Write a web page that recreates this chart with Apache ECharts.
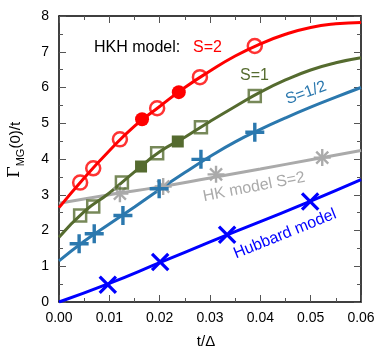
<!DOCTYPE html>
<html>
<head>
<meta charset="utf-8">
<script src="https://cdn.jsdelivr.net/npm/echarts@6/dist/echarts.min.js"></script>
<style>
  html, body { margin: 0; padding: 0; background: #fff; }
  #chart { width: 389px; height: 353px; }
</style>
</head>
<body>
<div id="chart"></div>
<script>
// x ticks and curve sampling
var xTicks = [0, 0.01, 0.02, 0.03, 0.04, 0.05, 0.06];
var curveX = [0, 0.005, 0.01, 0.015, 0.02, 0.025, 0.03, 0.035, 0.04, 0.045, 0.05, 0.055, 0.06];

// HKH S=2 (red)
var s2Curve = [2.64, 3.47, 4.23, 4.92, 5.47, 6.0, 6.46, 6.88, 7.22, 7.49, 7.68, 7.78, 7.82];
var s2OpenX = [0.0042, 0.0068, 0.0121, 0.0195, 0.0280, 0.0389];
var s2OpenY = [3.34, 3.74, 4.55, 5.42, 6.29, 7.16];
var s2FillX = [0.0165, 0.0238];
var s2FillY = [5.11, 5.87];

// HKH S=1 (olive)
var s1Curve = [1.81, 2.53, 3.05, 3.64, 4.2, 4.61, 5.05, 5.47, 5.87, 6.21, 6.49, 6.69, 6.83];
var s1OpenX = [0.0042, 0.0068, 0.0125, 0.0195, 0.0282, 0.0389];
var s1OpenY = [2.42, 2.67, 3.34, 4.16, 4.89, 5.76];
var s1FillX = [0.0163, 0.0236];
var s1FillY = [3.79, 4.49];

// HKH S=1/2 (steel blue)
var shCurve = [1.15, 1.7, 2.18, 2.66, 3.15, 3.62, 4.07, 4.48, 4.83, 5.15, 5.45, 5.73, 6.0];
var shX = [0.0040, 0.0070, 0.0127, 0.0199, 0.0282, 0.0389];
var shY = [1.63, 1.91, 2.42, 3.17, 3.99, 4.75];

// HK model S=2 (gray)
var hkLineX = [0, 0.01, 0.02, 0.03, 0.04, 0.05, 0.06];
var hkLineY = [2.76, 3.0, 3.22, 3.47, 3.72, 3.98, 4.24];
var hkX = [0.0121, 0.0207, 0.0312, 0.0523];
var hkY = [3.03, 3.23, 3.57, 4.04];

// Hubbard model (blue)
var hubLineX = [0, 0.01, 0.02, 0.03, 0.04, 0.05, 0.06];
var hubLineY = [0, 0.52, 1.1, 1.68, 2.25, 2.82, 3.42];
var hubX = [0.0097, 0.0201, 0.0334, 0.0499];
var hubY = [0.48, 1.12, 1.88, 2.81];

function pairs(xs, ys) {
    return xs.map(function (x, i) { return [x, ys[i]]; });
}

var RED = '#ff0000', OLIVE = '#556b2f', STEEL = '#2b78ae', GRAY = '#aaaaaa', BLUE = '#0000ff';
var PLUS = 'path://M4.1,0H5.9V4.1H10V5.9H5.9V10H4.1V5.9H0V4.1H4.1Z';
var THIN = 'path://M4.3,0H5.7V4.3H10V5.7H5.7V10H4.3V5.7H0V4.3H4.3Z';
var FONT = '"Liberation Sans", Arial, sans-serif';

function curve(xs, ys, color, smooth) {
    return {
        type: 'line', data: pairs(xs, ys), smooth: smooth, showSymbol: false, symbol: 'none',
        lineStyle: { color: color, width: 3 }, z: 2, silent: true
    };
}
function marks(xs, ys, symbol, size, color, extra) {
    var s = {
        type: 'scatter', data: pairs(xs, ys), symbol: symbol, symbolSize: size,
        itemStyle: { color: color, borderColor: color, borderWidth: 0, opacity: 1 }, z: 3, silent: true
    };
    for (var k in extra) s[k] = extra[k];
    return s;
}

var axisCommon = {
    type: 'value',
    axisLine: { show: true, onZero: false, lineStyle: { color: '#000', width: 1.5 } },
    axisTick: { show: true, inside: true, length: 7, lineStyle: { color: '#555', width: 1 } },
    minorTick: { show: true, splitNumber: 2, length: 4, lineStyle: { color: '#555', width: 1 } },
    splitLine: { show: false }
};
function ax(extra) {
    var a = JSON.parse(JSON.stringify(axisCommon));
    for (var k in extra) a[k] = extra[k];
    return a;
}

var chart = echarts.init(document.getElementById('chart'));
chart.setOption({
    animation: false,
    grid: { left: 59, right: 28, top: 16, bottom: 51 },
    xAxis: [
        ax({ min: 0, max: 0.06, interval: 0.01, position: 'bottom',
             axisLabel: { color: '#000', fontSize: 14, fontFamily: FONT, margin: 9,
                          formatter: function (v) { return v.toFixed(2); } } }),
        ax({ min: 0, max: 0.06, interval: 0.01, position: 'top', axisLabel: { show: false } })
    ],
    yAxis: [
        ax({ min: 0, max: 8, interval: 1, position: 'left',
             axisLabel: { color: '#000', fontSize: 14, fontFamily: FONT, margin: 10 } }),
        ax({ min: 0, max: 8, interval: 1, position: 'right', axisLabel: { show: false } })
    ],
    series: [
        curve(hubLineX, hubLineY, BLUE, true),
        curve(hkLineX, hkLineY, GRAY, true),
        curve(curveX, shCurve, STEEL, true),
        curve(curveX, s1Curve, OLIVE, true),
        curve(curveX, s2Curve, RED, true),
        marks(hubX, hubY, THIN, 23, BLUE, { symbolRotate: 45 }),
        marks(hkX, hkY, THIN, 17, GRAY, {}),
        marks(hkX, hkY, THIN, 17, GRAY, { symbolRotate: 45 }),
        marks(shX, shY, PLUS, 19, STEEL, {}),
        marks(s1OpenX, s1OpenY, 'rect', 12,
              '#fff', { itemStyle: { color: 'rgba(255,255,255,0)', borderColor: OLIVE, borderWidth: 2.5 } }),
        marks(s1FillX, s1FillY, 'rect', 12, OLIVE, {}),
        marks(s2OpenX, s2OpenY, 'circle', 14,
              '#fff', { itemStyle: { color: 'rgba(255,255,255,0)', borderColor: RED, borderWidth: 2.5 } }),
        marks(s2FillX, s2FillY, 'circle', 14, RED, {})
    ],
    graphic: [
        { type: 'text', left: 94, top: 40, style: { text: 'HKH model:', fill: '#000', font: '16px ' + FONT } },
        { type: 'text', left: 193, top: 40, style: { text: 'S=2', fill: RED, font: '16px ' + FONT } },
        { type: 'text', left: 240, top: 68, style: { text: 'S=1', fill: OLIVE, font: '16px ' + FONT } },
        { type: 'text', x: 306, y: 93, rotation: 20 * Math.PI / 180,
          style: { text: 'S=1/2', fill: STEEL, font: '16px ' + FONT, align: 'center', verticalAlign: 'middle' } },
        { type: 'text', x: 254, y: 187, rotation: 11 * Math.PI / 180,
          style: { text: 'HK model S=2', fill: GRAY, font: '16px ' + FONT, align: 'center', verticalAlign: 'middle' } },
        { type: 'text', x: 285, y: 234, rotation: 22 * Math.PI / 180,
          style: { text: 'Hubbard model', fill: BLUE, font: '16px ' + FONT, align: 'center', verticalAlign: 'middle' } },
        { type: 'text', x: 206, y: 342,
          style: { text: 't/Δ', fill: '#000', font: '15px ' + FONT, align: 'center', verticalAlign: 'middle' } },
        { type: 'text', x: 15, y: 150, rotation: Math.PI / 2,
          style: {
              text: '{g|Γ}{s|MG}{n|(0)/t}', align: 'center', verticalAlign: 'middle',
              rich: {
                  g: { fontSize: 17, fontFamily: '"DejaVu Serif", "Liberation Serif", serif', fill: '#000', verticalAlign: 'bottom' },
                  s: { fontSize: 11, fontFamily: FONT, fill: '#000', verticalAlign: 'bottom', padding: [0, 0, -3, 0] },
                  n: { fontSize: 15, fontFamily: FONT, fill: '#000', verticalAlign: 'bottom' }
              }
          } }
    ]
});
</script>
</body>
</html>
